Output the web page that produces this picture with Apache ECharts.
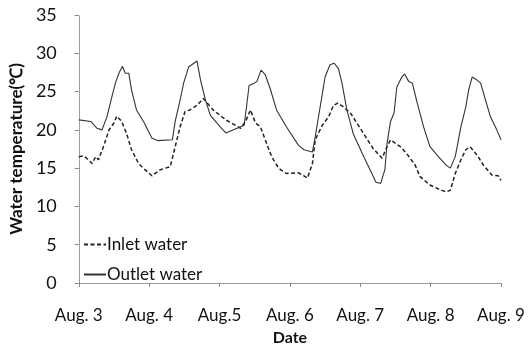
<!DOCTYPE html>
<html><head><meta charset="utf-8">
<script src="https://cdn.jsdelivr.net/npm/echarts@6/dist/echarts.min.js"></script>
<style>html,body{margin:0;padding:0;background:#fff}#c{width:531px;height:351px}</style>
</head><body><div id="c"></div>
<script>
const tickLabels = ["Aug. 3","Aug. 4","Aug.5","Aug. 6","Aug. 7","Aug. 8","Aug. 9"];
const outletDays = [0,0.17,0.26,0.33,0.40,0.47,0.52,0.57,0.62,0.66,0.71,0.75,0.82,0.92,1.04,1.12,1.33,1.37,1.44,1.49,1.56,1.68,1.73,1.80,1.87,2.01,2.09,2.20,2.35,2.39,2.42,2.49,2.53,2.59,2.65,2.72,2.81,2.95,3.12,3.20,3.32,3.36,3.43,3.50,3.57,3.63,3.69,3.74,3.81,3.90,4.05,4.18,4.22,4.29,4.35,4.38,4.43,4.48,4.52,4.59,4.63,4.69,4.74,4.81,4.90,4.99,5.11,5.22,5.28,5.35,5.43,5.50,5.54,5.59,5.66,5.71,5.78,5.85,5.94,6.0];
const outletTemp = [21.3,21.1,20.2,20.0,21.7,24.3,26.1,27.4,28.3,27.4,27.4,25.2,22.6,21.1,18.9,18.6,18.7,21.1,23.9,26.1,28.2,29.0,26.5,23.9,21.9,20.4,19.6,20.0,20.6,23.5,25.8,26.1,26.3,27.8,27.2,25.4,22.6,20.4,18.0,17.4,17.1,19.1,23.0,26.9,28.5,28.7,28.0,26.1,22.6,19.5,16.5,14.0,13.2,13.0,14.8,18.2,21.1,22.2,25.6,26.9,27.3,26.3,26.1,23.5,20.4,17.8,16.5,15.4,15.0,16.5,20.4,23.0,25.2,26.9,26.5,26.1,23.9,21.7,20.0,18.7];
const inletDays = [0,0.07,0.11,0.19,0.24,0.28,0.35,0.43,0.50,0.54,0.61,0.68,0.75,0.85,0.94,1.04,1.16,1.30,1.37,1.44,1.51,1.58,1.68,1.77,1.91,2.09,2.30,2.37,2.44,2.51,2.58,2.65,2.74,2.84,2.95,3.12,3.20,3.25,3.32,3.36,3.46,3.55,3.62,3.68,3.76,3.86,4.00,4.18,4.31,4.38,4.43,4.57,4.66,4.78,4.85,4.99,5.13,5.22,5.28,5.35,5.43,5.50,5.56,5.66,5.75,5.87,5.96,6.0];
const inletTemp = [16.5,16.6,16.3,15.6,16.5,16.1,17.8,20.0,20.9,21.8,21.1,19.5,17.4,15.6,14.8,14.0,14.8,15.2,17.8,20.4,22.4,22.6,23.2,24.1,22.6,21.3,20.2,21.1,22.6,20.9,20.4,18.7,16.5,15.0,14.3,14.4,14.0,13.7,15.6,18.7,20.6,21.7,23.2,23.5,23.0,22.2,20.2,17.6,16.3,17.8,18.7,17.8,16.9,15.4,13.9,12.8,12.2,11.9,12.1,14.3,16.1,17.4,17.8,16.7,15.4,14.1,14.0,13.4];

const zip = (a,b) => a.map((v,i) => [v,b[i]]);
const FONT = 'Lato';
const chart = echarts.init(document.getElementById('c'), null, {renderer:'canvas'});
const legendCommon = {left:78,orient:'vertical',itemWidth:22,itemHeight:12,itemGap:4,
  itemStyle:{opacity:0},
  textStyle:{fontFamily:FONT,fontSize:17,color:'#111',padding:[0,0,0,-4]}};
chart.setOption({
  animation:false,
  backgroundColor:'#fff',
  textStyle:{fontFamily:FONT},
  grid:{left:75,right:30,top:15,bottom:68},
  legend:[
    Object.assign({top:231,data:['Inlet water']},legendCommon),
    Object.assign({top:261,data:['Outlet water']},legendCommon)
  ],
  xAxis:{type:'value',min:0,max:6,interval:1,
    name:'Date',nameLocation:'middle',nameGap:47,
    nameTextStyle:{fontFamily:FONT,fontSize:16,fontWeight:'bold',color:'#111'},
    axisLine:{show:true,lineStyle:{color:'#888',type:'dotted',width:1}},
    axisTick:{show:true,length:4,lineStyle:{color:'#888'}},
    splitLine:{show:false},
    axisLabel:{margin:24,fontFamily:FONT,fontSize:17,color:'#111',formatter:(v)=>tickLabels[Math.round(v)]}
  },
  yAxis:{type:'value',min:0,max:35,interval:5,
    name:'Water temperature(℃)',nameLocation:'middle',nameGap:48,
    nameTextStyle:{fontFamily:FONT,fontSize:17,fontWeight:'bold',color:'#111'},
    axisLine:{show:true,lineStyle:{color:'#888',type:'dotted',width:1}},
    axisTick:{show:true,length:4,lineStyle:{color:'#888'}},
    splitLine:{show:false},
    axisLabel:{margin:22,fontFamily:FONT,fontSize:18,color:'#111'}
  },
  series:[
    {name:'Inlet water',type:'line',data:zip(inletDays,inletTemp),symbol:'none',
     lineStyle:{color:'#222',width:1.5,type:[4,2.5]},itemStyle:{color:'#222'}},
    {name:'Outlet water',type:'line',data:zip(outletDays,outletTemp),symbol:'none',
     lineStyle:{color:'#333',width:1.1,type:'solid'},itemStyle:{color:'#333'}}
  ]
});
</script></body></html>
